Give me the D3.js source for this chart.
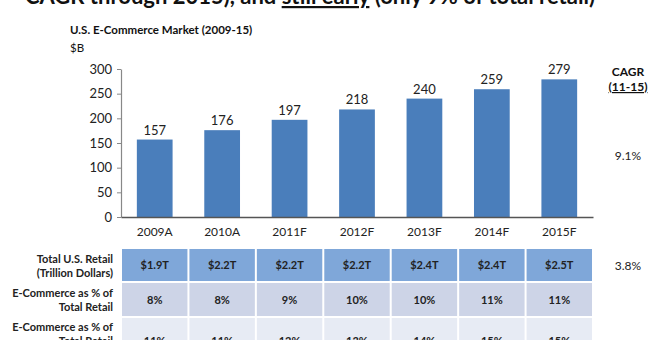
<!DOCTYPE html>
<html><head><meta charset="utf-8">
<script src="https://cdn.jsdelivr.net/npm/d3@7"></script>
<style>
html,body{margin:0;padding:0;background:#fff;}
svg{display:block;font-family:Lato,"Open Sans",sans-serif;}
</style></head>
<body>
<svg id="c" width="664" height="340"></svg>
<script>
const categories = ["2009A","2010A","2011F","2012F","2013F","2014F","2015F"];
const marketValues = [157,176,197,218,240,259,279];
const yTicks = [0,50,100,150,200,250,300];
const retailTotals = ["$1.9T","$2.2T","$2.2T","$2.2T","$2.4T","$2.4T","$2.5T"];
const ecomShare = ["8%","8%","9%","10%","10%","11%","11%"];
const ecomShare2 = ["11%","11%","12%","13%","14%","15%","15%"];
const cagrMarket = "9.1%";
const cagrRetail = "3.8%";

const svg = d3.select("#c");

// cut-off headline
const head = svg.append("text").attr("x", 310).attr("y", 4).attr("text-anchor","middle")
  .attr("font-size", 22).attr("font-weight", 700).attr("fill","#111");
head.append("tspan").text("CAGR through 2015), and ");
head.append("tspan").attr("text-decoration","underline").text("still early");
head.append("tspan").text(" (only 9% of total retail)");

svg.append("text").attr("x",70).attr("y",34).attr("font-size",11.5).attr("font-weight",700)
  .attr("fill","#111").text("U.S. E-Commerce Market (2009-15)");
svg.append("text").attr("x",70).attr("y",52).attr("font-size",11.5)
  .attr("fill","#111").text("$B");

const x = d3.scaleBand().domain(categories).range([121,593]).paddingInner(0.47).paddingOuter(0.235);
const y = d3.scaleLinear().domain([0,300]).range([217,69]);

// y axis
const ya = svg.append("g").attr("transform","translate(121,0)")
  .call(d3.axisLeft(y).tickValues(yTicks).tickSize(4).tickSizeOuter(0).tickPadding(5));
ya.select(".domain").attr("stroke","#888").attr("stroke-width",1.2);
ya.selectAll(".tick line").attr("stroke","#888");
ya.selectAll(".tick text").attr("font-size",13).attr("fill","#222").attr("font-family","Lato,sans-serif");

// bars
svg.append("g").selectAll("rect").data(categories).join("rect")
  .attr("x", d=>x(d)).attr("width", x.bandwidth())
  .attr("y", (d,i)=>y(marketValues[i])).attr("height",(d,i)=>y(0)-y(marketValues[i]))
  .attr("fill","#4a7ebb");

svg.append("g").selectAll("text").data(categories).join("text")
  .attr("x", d=>x(d)+x.bandwidth()/2).attr("y",(d,i)=>y(marketValues[i])-5)
  .attr("text-anchor","middle").attr("font-size",13).attr("fill","#222")
  .text((d,i)=>marketValues[i]);

// x axis
const xa = svg.append("g").attr("transform","translate(0,217)")
  .call(d3.axisBottom(x).tickSize(0).tickSizeOuter(0).tickPadding(10));
xa.select(".domain").attr("stroke","#555").attr("stroke-width",1.6);
xa.selectAll(".tick text").attr("font-size",12).attr("fill","#222").attr("font-family","Lato,sans-serif");

// CAGR header
svg.append("text").attr("x",628).attr("y",76).attr("text-anchor","middle").attr("font-size",12)
  .attr("font-weight",700).attr("fill","#111").text("CAGR");
svg.append("text").attr("x",628).attr("y",91).attr("text-anchor","middle").attr("font-size",12)
  .attr("font-weight",700).attr("fill","#111").attr("text-decoration","underline").text("(11-15)");
svg.append("text").attr("x",628).attr("y",160).attr("text-anchor","middle").attr("font-size",12)
  .attr("fill","#222").text(cagrMarket);

// table
const rows = [
  {vals: retailTotals, y0:249, y1:281, fill:"#7fa7d9", labels:["Total U.S. Retail","(Trillion Dollars)"]},
  {vals: ecomShare, y0:283, y1:316, fill:"#cdd4e7", labels:["E-Commerce as % of","Total Retail"]},
  {vals: ecomShare2, y0:318, y1:356, fill:"#e7ebf4", labels:["E-Commerce as % of","Total Retail"]}
];
const half = (x.step()-x.bandwidth())/2;
rows.forEach((r,ri)=>{
  const g = svg.append("g");
  g.selectAll("rect").data(categories).join("rect")
    .attr("x", d=>x(d)-half+1).attr("width", x.step()-2)
    .attr("y", r.y0).attr("height", r.y1-r.y0).attr("fill", r.fill);
  const mid = (r.y0+r.y1)/2;
  g.selectAll("text.v").data(categories).join("text").attr("class","v")
    .attr("x", d=>x(d)+x.bandwidth()/2).attr("y", ri===2 ? 345 : mid+4)
    .attr("text-anchor","middle").attr("font-size",11).attr("font-weight",700).attr("fill","#222")
    .text((d,i)=>r.vals[i]);
  const ly = ri===2 ? 331 : r.y0+14;
  r.labels.forEach((t,k)=>{
    g.append("text").attr("x",113).attr("y",ly+k*14).attr("text-anchor","end")
      .attr("font-size",11).attr("font-weight",700).attr("fill","#222").text(t);
  });
});
svg.append("text").attr("x",628).attr("y",270).attr("text-anchor","middle").attr("font-size",12)
  .attr("fill","#222").text(cagrRetail);
</script>
</body></html>
